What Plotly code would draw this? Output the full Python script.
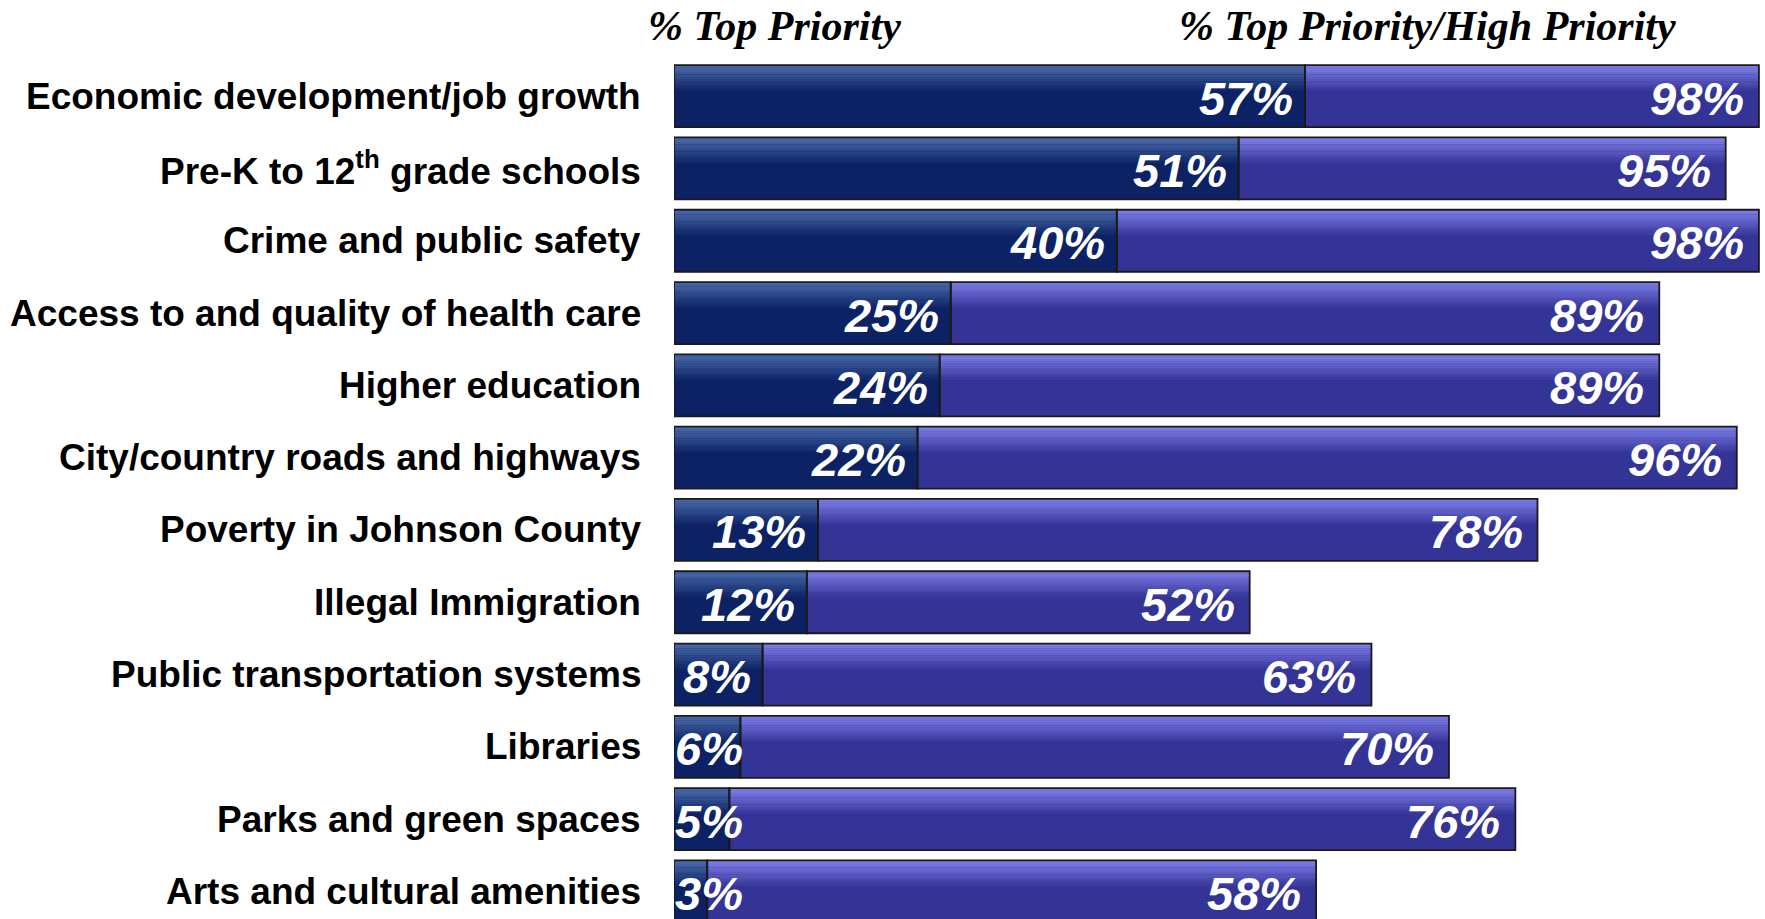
import plotly.graph_objects as go

categories = [
    "Economic development/job growth",
    "Pre-K to 12<sup>th</sup> grade schools",
    "Crime and public safety",
    "Access to and quality of health care",
    "Higher education",
    "City/country roads and highways",
    "Poverty in Johnson County",
    "Illegal Immigration",
    "Public transportation systems",
    "Libraries",
    "Parks and green spaces",
    "Arts and cultural amenities",
]
top_priority = [57, 51, 40, 25, 24, 22, 13, 12, 8, 6, 5, 3]
top_high_priority = [98, 95, 98, 89, 89, 96, 78, 52, 63, 70, 76, 58]
header_left = "% Top Priority"
header_right = "% Top Priority/High Priority"

W, H = 1765, 919
ML, MT = 674, 60
plot_w = W - ML
XMAX = 98.55
ppu = plot_w / XMAX

idx = list(range(len(categories)))
BW = 0.858

NAVY_TOP, NAVY_BOT = (0x4A, 0x6A, 0xAA), (0x0C, 0x22, 0x64)
PURP_TOP, PURP_BOT = (0x7E, 0x7E, 0xEA), (0x34, 0x34, 0x96)


def rgb(c):
    return "rgb(%d,%d,%d)" % c


def mix(a, b, t):
    return tuple(round(a[i] + (b[i] - a[i]) * t) for i in range(3))


diff = [b - a for a, b in zip(top_priority, top_high_priority)]

fig = go.Figure()
# base bars
fig.add_trace(go.Bar(y=idx, x=top_priority, base=[0] * len(idx), orientation="h",
                     width=BW, marker=dict(color=rgb(NAVY_BOT), line=dict(width=0)),
                     hoverinfo="skip", showlegend=False))
fig.add_trace(go.Bar(y=idx, x=diff, base=top_priority, orientation="h",
                     width=BW, marker=dict(color=rgb(PURP_BOT), line=dict(width=0)),
                     hoverinfo="skip", showlegend=False))

# gradient bands on upper part
NB = 12
grad_h = BW * 0.45
bh = grad_h / NB
for k in range(NB):
    t = k / (NB - 1)
    off = -BW / 2 + k * bh
    fig.add_trace(go.Bar(y=idx, x=top_priority, base=[0] * len(idx), orientation="h",
                         width=bh * 1.08, offset=off,
                         marker=dict(color=rgb(mix(NAVY_TOP, NAVY_BOT, t)), line=dict(width=0)),
                         hoverinfo="skip", showlegend=False))
    fig.add_trace(go.Bar(y=idx, x=diff, base=top_priority, orientation="h",
                         width=bh * 1.08, offset=off,
                         marker=dict(color=rgb(mix(PURP_TOP, PURP_BOT, t)), line=dict(width=0)),
                         hoverinfo="skip", showlegend=False))

# outlines
fig.add_trace(go.Bar(y=idx, x=top_priority, base=[0] * len(idx), orientation="h",
                     width=BW, marker=dict(color="rgba(0,0,0,0)", line=dict(color="#1a1a1a", width=1.8)),
                     hoverinfo="skip", showlegend=False))
fig.add_trace(go.Bar(y=idx, x=diff, base=top_priority, orientation="h",
                     width=BW, marker=dict(color="rgba(0,0,0,0)", line=dict(color="#1a1a1a", width=1.8)),
                     hoverinfo="skip", showlegend=False))

annotations = []
LBL_SIZE = 47
PAD = 10
lbl_font = dict(family="Liberation Sans, Arial, sans-serif", size=LBL_SIZE, color="white",
                weight="bold", style="italic")


def text_w(s):
    w = 0
    for ch in s:
        w += 0.889 if ch == "%" else 0.556
    return w * LBL_SIZE


for i, (a, b) in enumerate(zip(top_priority, top_high_priority)):
    s = f"{a}%"
    if a * ppu - PAD - text_w(s) < 0:
        annotations.append(dict(x=0, y=i, xref="x", yref="y", text=s, showarrow=False,
                                xanchor="left", yanchor="middle", xshift=-1, yshift=-2, font=lbl_font))
    else:
        annotations.append(dict(x=a, y=i, xref="x", yref="y", text=s, showarrow=False,
                                xanchor="right", yanchor="middle", xshift=-PAD, yshift=-2, font=lbl_font))
    annotations.append(dict(x=b, y=i, xref="x", yref="y", text=f"{b}%", showarrow=False,
                            xanchor="right", yanchor="middle", xshift=-13, yshift=-2, font=lbl_font))
    annotations.append(dict(x=-(ML - 643) / plot_w, y=i, xref="paper", yref="y", text=categories[i],
                            showarrow=False, xanchor="right", yanchor="middle",
                            font=dict(family="Liberation Sans, Arial, sans-serif", size=37,
                                      color="black", weight="bold")))

plot_h = H - MT
hdr_font = dict(family="Liberation Serif, Times New Roman, serif", size=42, color="black",
                weight="bold", style="italic")
annotations.append(dict(x=(774 - ML) / plot_w, y=(H - 26) / plot_h, xref="paper", yref="paper",
                        text=header_left, showarrow=False, xanchor="center", yanchor="middle", font=hdr_font))
annotations.append(dict(x=(1427 - ML) / plot_w, y=(H - 26) / plot_h, xref="paper", yref="paper",
                        text=header_right, showarrow=False, xanchor="center", yanchor="middle", font=hdr_font))

rows = plot_h / 72.3
fig.update_layout(
    width=W, height=H,
    margin=dict(l=ML, r=0, t=MT, b=0, pad=0),
    barmode="overlay",
    plot_bgcolor="white", paper_bgcolor="white",
    xaxis=dict(range=[0, XMAX], visible=False, fixedrange=True),
    yaxis=dict(range=[-0.5 + rows, -0.5], visible=False, fixedrange=True),
    annotations=annotations,
    showlegend=False,
)

fig.write_html("out.html", config={"displayModeBar": False},
               post_script="document.body.style.margin='0';document.body.style.overflow='hidden';")
